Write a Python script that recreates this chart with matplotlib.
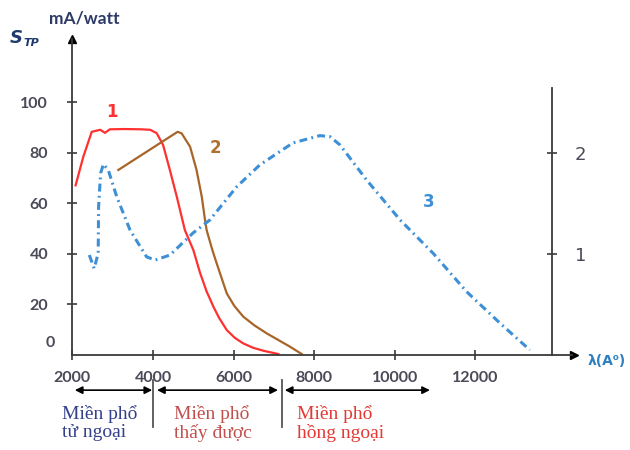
import matplotlib
matplotlib.use("Agg")
import matplotlib.pyplot as plt

# spectral sensitivity curves (wavelength in angstrom, S in mA/watt)
wl_1 = [2080, 2270, 2480, 2690, 2810, 2930, 3300, 3700, 3930, 4090, 4250, 4420,
        4590, 4790, 5000, 5170, 5330, 5500, 5640, 5830, 6030, 6240, 6480, 6740, 7110]
s_1 = [67, 78.3, 88.2, 89, 87.8, 89.2, 89.3, 89.2, 89, 87.7, 83, 73,
       62.5, 49.3, 41.4, 32.2, 25, 18.9, 14.5, 9.7, 6.6, 4.4, 2.7, 1.5, 0.2]

wl_2 = [3140, 4610, 4710, 4920, 5080, 5210, 5290, 5330, 5480, 5580, 5830, 6020,
        6240, 6520, 6820, 7400, 7690]
s_2 = [73.1, 88.2, 87.6, 82.3, 73.1, 62.5, 53.3, 49.3, 41, 36.1, 24.2, 19.2,
       15.0, 11.5, 8.4, 3.1, 0.2]

wl_3 = [2420, 2540, 2640, 2650, 2700, 2770, 2890, 3100, 3430, 3840, 4050, 4420,
        4990, 5410, 6080, 6650, 7470, 8140, 8390, 8640, 9300, 10130, 10950,
        11780, 12610, 13350]
s_3 = [39.4, 34.1, 40.1, 58.5, 71.8, 75.4, 73.1, 62.5, 49.3, 38.7, 37.4, 39.4,
       48.1, 53.3, 66.5, 75.1, 83.8, 86.7, 86.3, 83.0, 69.1, 53.3, 40.1,
       24.9, 12.4, 1.8]

left_ticks = [20, 40, 60, 80, 100]
x_ticks = [2000, 4000, 6000, 8000, 10000, 12000]
right_ticks = [1, 2]

# spectral regions (wavelength span) and their names
region_start = [2060, 4100, 7270]
region_end = [3980, 7100, 10870]
region_names = ["Miền phổ\ntử ngoại", "Miền phổ\nthấy được", "Miền phổ\nhồng ngoại"]
region_borders = [4000, 7200]

region_cols = ["#34408a", "#c0504d", "#e33a36"]
label_x = [1740, 4520, 7570]
axis_col = "#3a3a3a"
tick_col = "#4a4a58"

fig = plt.figure(figsize=(6.3, 4.5), dpi=100)
ax = fig.add_axes([0, 0, 1, 1])
ax.set_xlim(204, 15834)
ax.set_ylim(-37.8, 140.4)

for s in ["top", "right"]:
    ax.spines[s].set_visible(False)
ax.spines["left"].set_position(("data", 2000))
ax.spines["bottom"].set_position(("data", 0))
ax.spines["left"].set_bounds(0, 125)
ax.spines["bottom"].set_bounds(2000, 14400)
for s in ["left", "bottom"]:
    ax.spines[s].set_color(axis_col)
    ax.spines[s].set_linewidth(1.3)
ax.plot([2000], [125], marker="^", ms=6, color="black", clip_on=False)
ax.plot([14450], [0], marker=">", ms=6, color="black", clip_on=False)

ax.set_yticks(left_ticks)
ax.set_yticklabels([str(t) for t in left_ticks])
ax.set_xticks(x_ticks)
ax.set_xticklabels([str(t) for t in x_ticks])
ax.tick_params(axis="y", direction="inout", length=7, width=1.2, color=axis_col,
               pad=14, labelcolor=tick_col)
ax.tick_params(axis="x", direction="inout", length=7, width=1.2, color=axis_col,
               pad=8, labelcolor=tick_col)
for lab in ax.get_xticklabels() + ax.get_yticklabels():
    lab.set_fontfamily("Lato")
    lab.set_fontweight("bold")
    lab.set_fontsize(11.5)
ax.text(1570, 4.5, "0", ha="right", va="center", family="Lato",
        fontweight="bold", fontsize=11.5, color=tick_col)

# right axis for curve 3
ax2 = ax.twinx()
ax2.set_ylim(-37.8 / 40, 140.4 / 40)
for s in ["top", "left", "bottom"]:
    ax2.spines[s].set_visible(False)
ax2.spines["right"].set_position(("data", 13900))
ax2.spines["right"].set_bounds(0, 2.64)
ax2.spines["right"].set_color(axis_col)
ax2.spines["right"].set_linewidth(1.3)
ax2.set_yticks(right_ticks)
ax2.set_yticklabels([str(t) for t in right_ticks])
ax2.tick_params(axis="y", direction="inout", length=7, width=1.2, color=axis_col,
                pad=13, labelcolor=tick_col, labelsize=13)

# curves
ax.plot(wl_1, s_1, color="#ff3030", lw=1.6)
ax.plot(wl_2, s_2, color="#a8652a", lw=1.6)
ax.plot(wl_3, s_3, color="#3d8fd6", lw=2.2, linestyle=(0, (2.6, 1.4, 0.6, 1.4)))

ax.text(2975, 96.2, "1", color="#ff3030", fontsize=12, fontweight="bold",
        ha="center", va="center")
ax.text(5540, 81.8, "2", color="#b07030", fontsize=12, fontweight="bold",
        ha="center", va="center")
ax.text(10830, 60.4, "3", color="#3d8fd6", fontsize=12, fontweight="bold",
        ha="center", va="center")

# region arrows and labels
for i in range(len(region_names)):
    ax.annotate("", xy=(region_end[i], -14.1), xytext=(region_start[i], -14.1),
                arrowprops=dict(arrowstyle="<|-|>", color="black", lw=1.2,
                                mutation_scale=11, shrinkA=0, shrinkB=0),
                annotation_clip=False)
    ax.text(label_x[i], -20, region_names[i], color=region_cols[i],
            family="Liberation Serif", fontsize=14, ha="left", va="top",
            linespacing=1.1)
for b in region_borders:
    ax.plot([b, b], [-10, -28.7], color="#555555", lw=1.3, clip_on=False)

# axis titles
fig.text(84 / 630, 1 - 18 / 450, "mA/watt", family="Lato", fontweight="bold",
         fontsize=12.5, color="#2d3a66", ha="center", va="center")
fig.text(10 / 630, 1 - 38 / 450, "S", fontweight="bold", style="italic",
         fontsize=13, color="#1f3a6e", ha="left", va="center")
fig.text(23 / 630, 1 - 43 / 450, "TP", fontweight="bold", style="italic",
         fontsize=8, color="#1f3a6e", ha="left", va="center")
fig.text(588 / 630, 1 - 361 / 450, "λ(A⁰)", fontweight="bold", fontsize=10,
         color="#2e7fc0", ha="left", va="center")

fig.savefig("out.png", dpi=100)
